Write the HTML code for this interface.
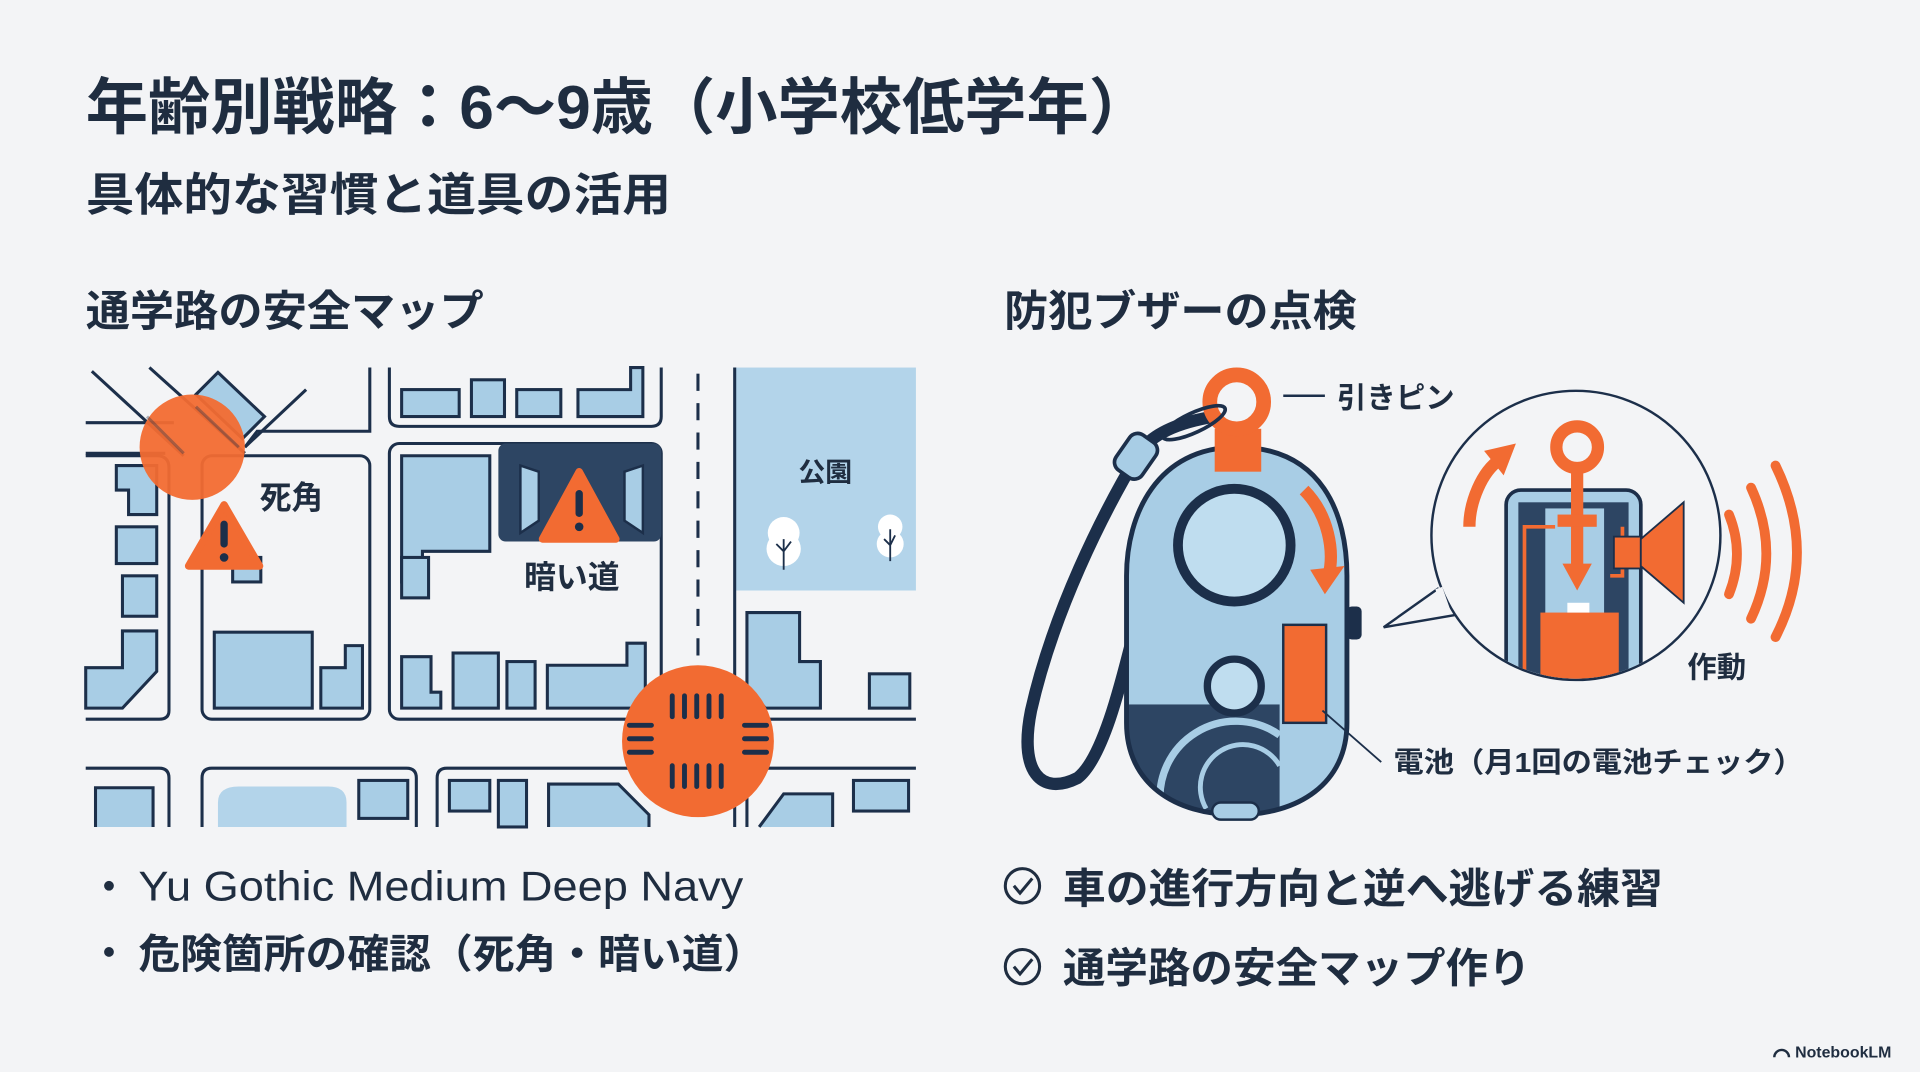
<!DOCTYPE html>
<html><head><meta charset="utf-8"><style>
html,body{margin:0;padding:0;background:#f3f4f6;}
svg{display:block}
text{font-family:"Liberation Sans","Noto Sans CJK JP",sans-serif;fill:#1f2d40}
</style></head><body>
<svg width="1920" height="1072" viewBox="0 0 1568 875" preserveAspectRatio="none" xmlns="http://www.w3.org/2000/svg">
<rect width="1568" height="875" fill="#f3f4f6"/>
<text x="70" y="105" font-size="50" font-weight="bold" textLength="870" lengthAdjust="spacingAndGlyphs">年齢別戦略：6〜9歳（小学校低学年）</text>
<text x="70" y="172" font-size="37" font-weight="bold" textLength="478" lengthAdjust="spacingAndGlyphs">具体的な習慣と道具の活用</text>
<text x="70" y="266" font-size="35" font-weight="bold" textLength="325" lengthAdjust="spacingAndGlyphs">通学路の安全マップ</text>
<text x="820" y="266" font-size="35" font-weight="bold" textLength="288" lengthAdjust="spacingAndGlyphs">防犯ブザーの点検</text>

<!-- MAP -->
<g stroke="#1c2f4a" stroke-width="2.5" fill="none">
 <rect x="600" y="300" width="148" height="182" fill="#b3d4ea" stroke="none"/>
 <line x1="600" y1="300" x2="600" y2="675"/>
 <line x1="570" y1="305" x2="570" y2="545" stroke-dasharray="14 10"/>
 <line x1="75" y1="303" x2="150" y2="372"/>
 <line x1="122" y1="300" x2="200" y2="370"/>
 <line x1="250" y1="318" x2="200" y2="365"/>
 <line x1="70" y1="345" x2="142" y2="345"/>
 <line x1="70" y1="370" x2="135" y2="370"/>
 <path d="M200 365 L210 352 L302 352 L302 300"/>
 <path d="M160 322 L178 304 L216 340 L198 358 Z" fill="#a8cde5"/>
 <path d="M70 372 L128 372 Q138 372 138 382 L138 580 Q138 587 130 587 L70 587"/>
 <path d="M95 380 L128 380 L128 420 L105 420 L105 400 L95 400 Z" fill="#a8cde5"/>
 <rect x="95" y="430" width="33" height="30" fill="#a8cde5"/>
 <rect x="100" y="470" width="28" height="33" fill="#a8cde5"/>
 <path d="M70 578 L100 578 L128 548 L128 515 L100 515 L100 545 L70 545 Z" fill="#a8cde5"/>
 <rect x="165" y="372" width="137" height="215" rx="8"/>
 <rect x="190" y="455" width="23" height="20" fill="#a8cde5"/>
 <rect x="175" y="516" width="80" height="62" fill="#a8cde5"/>
 <path d="M262 578 L296 578 L296 527 L282 527 L282 545 L262 545 Z" fill="#a8cde5"/>
 <path d="M318 300 L318 340 Q318 348 326 348 L532 348 Q540 348 540 340 L540 300"/>
 <rect x="328" y="318" width="47" height="22" fill="#a8cde5"/>
 <rect x="385" y="310" width="27" height="30" fill="#a8cde5"/>
 <rect x="422" y="318" width="36" height="22" fill="#a8cde5"/>
 <path d="M472 340 L525 340 L525 300 L515 300 L515 318 L472 318 Z" fill="#a8cde5"/>
 <rect x="318" y="362" width="222" height="225" rx="8"/>
 <path d="M328 372 L400 372 L400 450 L345 450 L345 475 L328 475 Z" fill="#a8cde5"/>
 <rect x="328" y="455" width="22" height="33" fill="#a8cde5"/>
 <path d="M328 536 L352 536 L352 565 L360 565 L360 578 L328 578 Z" fill="#a8cde5"/>
 <rect x="370" y="533" width="37" height="45" fill="#a8cde5"/>
 <rect x="414" y="540" width="23" height="38" fill="#a8cde5"/>
 <path d="M447 578 L527 578 L527 525 L512 525 L512 543 L447 543 Z" fill="#a8cde5"/>
 <path d="M610 500 L653 500 L653 540 L670 540 L670 578 L625 578 L610 560 Z" fill="#a8cde5"/>
 <rect x="710" y="550" width="33" height="28" fill="#a8cde5"/>
 <line x1="600" y1="587" x2="748" y2="587"/>
 <path d="M70 627 L130 627 Q138 627 138 635 L138 675"/>
 <path d="M78 675 L78 643 L125 643 L125 675" fill="#a8cde5"/>
 <path d="M165 675 L165 635 Q165 627 173 627 L332 627 Q340 627 340 635 L340 675"/>
 <path d="M178 675 L178 655 Q178 642 195 642 L268 642 Q283 642 283 655 L283 675 Z" fill="#b3d4ea" stroke="none"/>
 <rect x="293" y="637" width="40" height="31" fill="#a8cde5"/>
 <path d="M357 675 L357 635 Q357 627 365 627 L530 627"/>
 <rect x="367" y="637" width="33" height="25" fill="#a8cde5"/>
 <rect x="407" y="637" width="23" height="38" fill="#a8cde5"/>
 <path d="M448 675 L448 640 L505 640 L530 665 L530 675" fill="#a8cde5"/>
 <path d="M610 675 L610 635 Q610 627 618 627 L748 627"/>
 <path d="M620 675 L640 648 L680 648 L680 675" fill="#a8cde5"/>
 <rect x="697" y="637" width="45" height="25" fill="#a8cde5"/>
</g>
<g>
 <rect x="407" y="362" width="133" height="80" rx="6" fill="#2d4563"/>
 <path d="M425 380 L440 385 L440 425 L425 435 Z" fill="#a8cde5" stroke="#1c2f4a" stroke-width="2"/>
 <path d="M525 380 L510 385 L510 425 L525 435 Z" fill="#a8cde5" stroke="#1c2f4a" stroke-width="2"/>
 <path d="M473 385 L503 440 L443 440 Z" fill="#f26b32" stroke="#f26b32" stroke-width="6" stroke-linejoin="round"/>
 <rect x="470" y="400" width="6" height="22" rx="3" fill="#1c2f4a"/><circle cx="473" cy="430" r="3.5" fill="#1c2f4a"/>
</g>
<circle cx="157" cy="365" r="43" fill="#f26b32" opacity="0.95"/>
<g stroke="#1c2f4a" stroke-width="2.5" opacity="0.35"><line x1="120" y1="340" x2="150" y2="370"/><line x1="160" y1="332" x2="195" y2="365"/></g>
<path d="M183 412 L212 462 L154 462 Z" fill="#f26b32" stroke="#f26b32" stroke-width="6" stroke-linejoin="round"/>
<rect x="180" y="425" width="6" height="22" rx="3" fill="#1c2f4a"/><circle cx="183" cy="455" r="3.5" fill="#1c2f4a"/>
<text x="212" y="415" font-size="26" font-weight="bold">死角</text>
<text x="428" y="480" font-size="26" font-weight="bold">暗い道</text>
<text x="652" y="393" font-size="22" font-weight="bold">公園</text>
<g fill="#fff"><circle cx="640" cy="435" r="13"/><circle cx="640" cy="448" r="14"/><circle cx="727" cy="430" r="10"/><circle cx="727" cy="444" r="11"/></g>
<g stroke="#1c2f4a" stroke-width="1.5" fill="none"><path d="M640 465 L640 440 M640 450 L634 444 M640 450 L646 442"/><path d="M727 458 L727 432 M727 445 L722 440 M727 445 L731 437"/></g>
<circle cx="570" cy="605" r="62" fill="#f26b32"/>
<g stroke="#1c2f4a" stroke-width="4" stroke-linecap="round">
 <line x1="549" y1="568" x2="549" y2="585"/><line x1="559" y1="568" x2="559" y2="585"/><line x1="569" y1="568" x2="569" y2="585"/><line x1="579" y1="568" x2="579" y2="585"/><line x1="589" y1="568" x2="589" y2="585"/>
 <line x1="549" y1="625" x2="549" y2="642"/><line x1="559" y1="625" x2="559" y2="642"/><line x1="569" y1="625" x2="569" y2="642"/><line x1="579" y1="625" x2="579" y2="642"/><line x1="589" y1="625" x2="589" y2="642"/>
 <line x1="514" y1="592" x2="532" y2="592"/><line x1="514" y1="603" x2="532" y2="603"/><line x1="514" y1="614" x2="532" y2="614"/>
 <line x1="608" y1="592" x2="626" y2="592"/><line x1="608" y1="603" x2="626" y2="603"/><line x1="608" y1="614" x2="626" y2="614"/>
</g>

<!-- BUZZER -->
<path d="M992 340 C960 345 940 355 930 370 C900 420 860 500 842 580 C832 630 850 650 880 635 C900 620 915 560 925 520" stroke="#1c2f4a" stroke-width="10" fill="none" stroke-linecap="round"/>
<rect x="915" y="355" width="26" height="35" rx="8" fill="#a8cde5" stroke="#1c2f4a" stroke-width="3" transform="rotate(35 928 372)"/>
<clipPath id="bd"><path d="M1010 365 C1080 365 1100 420 1100 470 L1100 590 C1100 640 1060 665 1010 665 C960 665 920 640 920 590 L920 470 C920 420 945 365 1010 365 Z"/></clipPath>
<path d="M1010 365 C1080 365 1100 420 1100 470 L1100 590 C1100 640 1060 665 1010 665 C960 665 920 640 920 590 L920 470 C920 420 945 365 1010 365 Z" fill="#a8cde5"/>
<g clip-path="url(#bd)">
 <rect x="920" y="575" width="125" height="95" fill="#2d4563"/>
 <path d="M948 660 A62 62 0 0 1 1045 600" stroke="#a8cde5" stroke-width="6" fill="none"/>
 <path d="M985 660 A30 30 0 0 1 1045 625" stroke="#a8cde5" stroke-width="4" fill="none"/>
</g>
<path d="M1010 365 C1080 365 1100 420 1100 470 L1100 590 C1100 640 1060 665 1010 665 C960 665 920 640 920 590 L920 470 C920 420 945 365 1010 365 Z" fill="none" stroke="#1c2f4a" stroke-width="4"/>
<rect x="990" y="655" width="38" height="14" rx="7" fill="#a8cde5" stroke="#1c2f4a" stroke-width="2"/>
<circle cx="1008" cy="445" r="46" fill="#bfddef" stroke="#1c2f4a" stroke-width="8"/>
<circle cx="1008" cy="560" r="22" fill="#bfddef" stroke="#1c2f4a" stroke-width="6"/>
<rect x="1100" y="495" width="12" height="27" rx="4" fill="#1c2f4a"/>
<rect x="1048" y="510" width="35" height="80" fill="#f26b32" stroke="#1c2f4a" stroke-width="2"/>
<rect x="992" y="350" width="38" height="35" fill="#f26b32"/>
<circle cx="1010" cy="328" r="22" fill="none" stroke="#f26b32" stroke-width="12"/>
<ellipse cx="975" cy="345" rx="28" ry="8" fill="none" stroke="#1c2f4a" stroke-width="3" transform="rotate(-25 975 345)"/>
<path d="M1065 400 C1085 420 1090 450 1085 470" stroke="#f26b32" stroke-width="10" fill="none"/>
<path d="M1070 465 L1098 462 L1082 485 Z" fill="#f26b32"/>
<line x1="1080" y1="580" x2="1128" y2="622" stroke="#1c2f4a" stroke-width="1.5"/>
<line x1="1048" y1="323" x2="1082" y2="323" stroke="#1c2f4a" stroke-width="2"/>
<text x="1092" y="333" font-size="24" font-weight="bold">引きピン</text>
<text x="1138" y="630" font-size="23" font-weight="bold" textLength="335" lengthAdjust="spacingAndGlyphs">電池（月1回の電池チェック）</text>
<path d="M1175 480 L1130 512 L1200 500" fill="#f3f4f6" stroke="#1c2f4a" stroke-width="2"/>
<circle cx="1287" cy="437" r="118" fill="#f3f4f6" stroke="#1c2f4a" stroke-width="2"/>
<path d="M1175 480 L1182 500" stroke="#f3f4f6" stroke-width="6"/>
<clipPath id="cc"><circle cx="1287" cy="437" r="117"/></clipPath>
<g clip-path="url(#cc)">
 <rect x="1230" y="400" width="110" height="160" rx="12" fill="#a8cde5" stroke="#1c2f4a" stroke-width="3"/>
 <rect x="1240" y="410" width="90" height="150" fill="#2d4563"/>
 <rect x="1262" y="415" width="48" height="95" fill="#a8cde5"/>
 <rect x="1258" y="500" width="64" height="60" fill="#f26b32"/>
 <rect x="1280" y="492" width="18" height="8" fill="#fff"/>
 <path d="M1245 555 L1245 430 L1270 430" stroke="#f26b32" stroke-width="3" fill="none"/>
 <path d="M1325 430 L1325 470 L1315 470" stroke="#f26b32" stroke-width="3" fill="none"/>
</g>
<circle cx="1288" cy="365" r="17" fill="none" stroke="#f26b32" stroke-width="10"/>
<rect x="1283" y="380" width="10" height="85" fill="#f26b32"/>
<rect x="1272" y="420" width="32" height="10" fill="#f26b32"/>
<path d="M1276 460 L1300 460 L1288 482 Z" fill="#f26b32"/>
<rect x="1318" y="438" width="22" height="26" fill="#f26b32" stroke="#1c2f4a" stroke-width="1.5"/>
<path d="M1340 440 L1375 410 L1375 492 L1340 462 Z" fill="#f26b32" stroke="#1c2f4a" stroke-width="1.5"/>
<path d="M1200 430 C1200 410 1210 385 1225 375" stroke="#f26b32" stroke-width="10" fill="none"/>
<path d="M1212 368 L1238 362 L1228 388 Z" fill="#f26b32"/>
<g stroke="#f26b32" stroke-width="8" fill="none" stroke-linecap="round">
 <path d="M1412 420 Q1425 452 1412 485"/>
 <path d="M1430 398 Q1455 452 1430 505"/>
 <path d="M1450 380 Q1485 452 1450 520"/>
</g>
<text x="1378" y="553" font-size="24" font-weight="bold">作動</text>

<circle cx="89" cy="723" r="4" fill="#1f2d40"/>
<text x="113" y="735" font-size="34" textLength="494" lengthAdjust="spacingAndGlyphs">Yu Gothic Medium Deep Navy</text>
<circle cx="89" cy="777" r="4" fill="#1f2d40"/>
<text x="113" y="790" font-size="33" font-weight="bold" textLength="512" lengthAdjust="spacingAndGlyphs">危険箇所の確認（死角・暗い道）</text>
<g stroke="#1f2d40" stroke-width="2.5" fill="none">
 <circle cx="835" cy="723" r="14"/><path d="M828 723 L833 729 L843 717"/>
 <circle cx="835" cy="789" r="14"/><path d="M828 789 L833 795 L843 783"/>
</g>
<text x="868" y="737" font-size="34" font-weight="bold" textLength="490" lengthAdjust="spacingAndGlyphs">車の進行方向と逆へ逃げる練習</text>
<text x="868" y="802" font-size="34" font-weight="bold" textLength="382" lengthAdjust="spacingAndGlyphs">通学路の安全マップ作り</text>
<path d="M1449 863 A6 6 0 0 1 1461 863" stroke="#1f2d40" stroke-width="2" fill="none"/>
<text x="1466" y="863" font-size="13" font-weight="bold">NotebookLM</text>
</svg>
</body></html>
